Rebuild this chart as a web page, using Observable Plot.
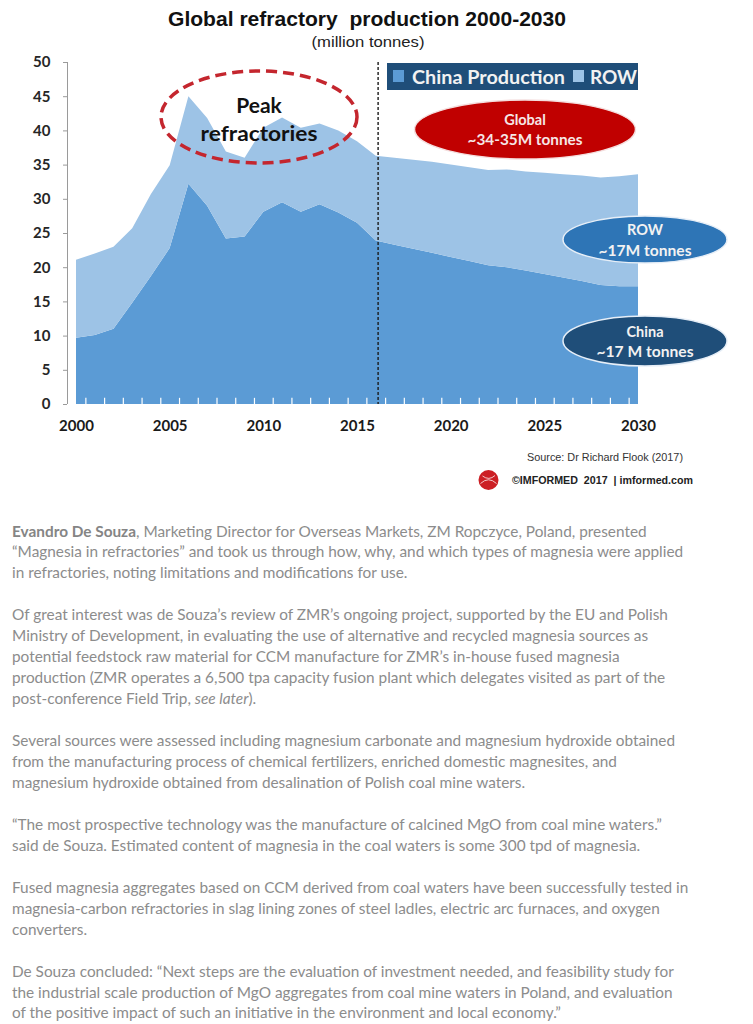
<!DOCTYPE html>
<html>
<head>
<meta charset="utf-8">
<script src="https://cdn.jsdelivr.net/npm/d3@7"></script>
<script src="https://cdn.jsdelivr.net/npm/@observablehq/plot@0.6"></script>
<style>
  html, body { margin: 0; padding: 0; background: #fff; }
  #page { position: relative; width: 753px; height: 1024px; overflow: hidden; }
  #chart { position: absolute; left: 0; top: 50px; }
  #overlay { position: absolute; left: 0; top: 0; pointer-events: none; }
  #text { position: absolute; left: 12px; top: 520.6px; font-family: Lato, sans-serif; color: #8c8c8c; }
  #text .line { white-space: pre; height: 20.8px; line-height: 20.8px; }
  #text .gap { height: 21.5px; }
  #text b { font-weight: bold; color: #858585; }
</style>
</head>
<body>
<div id="page">
  <div id="chart"></div>
  <svg id="overlay" width="753" height="500" xmlns="http://www.w3.org/2000/svg">
    <!-- title -->
    <text x="367" y="19" text-anchor="middle" dominant-baseline="central" font-family="Liberation Sans, Arial, sans-serif" font-weight="bold" font-size="19.5" fill="#111" textLength="398" lengthAdjust="spacingAndGlyphs" style="white-space:pre" xml:space="preserve">Global refractory  production 2000-2030</text>
    <text x="368" y="42" text-anchor="middle" dominant-baseline="central" font-family="Liberation Sans, Arial, sans-serif" font-size="14" fill="#222" textLength="113" lengthAdjust="spacingAndGlyphs">(million tonnes)</text>

    <!-- legend -->
    <rect x="387" y="63" width="251" height="27" fill="#1f4e79"></rect>
    <rect x="393" y="70" width="11" height="12" fill="#5b9bd5"></rect>
    <text x="412" y="76.5" dominant-baseline="central" font-family="Lato, sans-serif" font-weight="bold" font-size="18.5" fill="#f2f2f2" textLength="153" lengthAdjust="spacingAndGlyphs">China Production</text>
    <rect x="573" y="70" width="11" height="12" fill="#9dc3e6"></rect>
    <text x="590" y="76.5" dominant-baseline="central" font-family="Lato, sans-serif" font-weight="bold" font-size="18.5" fill="#f2f2f2" textLength="47" lengthAdjust="spacingAndGlyphs">ROW</text>

    <!-- peak annotation -->
    <ellipse cx="259" cy="117" rx="98" ry="46" fill="none" stroke="#c4262e" stroke-width="3.5" stroke-dasharray="11,6"></ellipse>
    <text x="259" y="104" text-anchor="middle" dominant-baseline="central" font-family="Lato, sans-serif" font-weight="bold" font-size="21" fill="#111">Peak</text>
    <text x="259" y="132" text-anchor="middle" dominant-baseline="central" font-family="Lato, sans-serif" font-weight="bold" font-size="21" fill="#111" textLength="117" lengthAdjust="spacingAndGlyphs">refractories</text>

    <!-- global ellipse -->
    <ellipse cx="525" cy="129.5" rx="110.5" ry="29.5" fill="#c00000" stroke="#f4dede" stroke-width="1.5"></ellipse>
    <text x="525" y="119" text-anchor="middle" dominant-baseline="central" font-family="Lato, sans-serif" font-weight="bold" font-size="14.5" fill="#f6e6e6">Global</text>
    <text x="525" y="139.5" text-anchor="middle" dominant-baseline="central" font-family="Lato, sans-serif" font-weight="bold" font-size="14.5" fill="#f6e6e6" textLength="115" lengthAdjust="spacingAndGlyphs">~34-35M tonnes</text>

    <!-- ROW ellipse -->
    <ellipse cx="645" cy="239.5" rx="82" ry="23.5" fill="#2e75b6" stroke="#e6eef7" stroke-width="1.5"></ellipse>
    <text x="645" y="229.5" text-anchor="middle" dominant-baseline="central" font-family="Lato, sans-serif" font-weight="bold" font-size="14.5" fill="#f2f2f2">ROW</text>
    <text x="645" y="250" text-anchor="middle" dominant-baseline="central" font-family="Lato, sans-serif" font-weight="bold" font-size="14.5" fill="#f2f2f2" textLength="93" lengthAdjust="spacingAndGlyphs">~17M tonnes</text>

    <!-- China ellipse -->
    <ellipse cx="645" cy="341" rx="82" ry="25" fill="#1f4e79" stroke="#e6eef7" stroke-width="1.5"></ellipse>
    <text x="645" y="331" text-anchor="middle" dominant-baseline="central" font-family="Lato, sans-serif" font-weight="bold" font-size="14.5" fill="#f2f2f2">China</text>
    <text x="645" y="351.5" text-anchor="middle" dominant-baseline="central" font-family="Lato, sans-serif" font-weight="bold" font-size="14.5" fill="#f2f2f2" textLength="97" lengthAdjust="spacingAndGlyphs">~17 M tonnes</text>

    <!-- source and logo -->
    <text x="527" y="457" dominant-baseline="central" font-family="Liberation Sans, Arial, sans-serif" font-size="11" fill="#333" textLength="156" lengthAdjust="spacingAndGlyphs">Source: Dr Richard Flook (2017)</text>
    <circle cx="488.5" cy="480" r="10" fill="#cc1f24"></circle>
    <path d="M480.5 483.5 Q488.5 476 496.5 483.5 M482.5 476 Q489 481 495 475.5" fill="none" stroke="#ffffff" stroke-opacity="0.75" stroke-width="1"></path>
    <text x="512" y="480" dominant-baseline="central" font-family="Liberation Sans, Arial, sans-serif" font-weight="bold" font-size="11" fill="#222" textLength="181" lengthAdjust="spacingAndGlyphs" style="white-space:pre" xml:space="preserve">©IMFORMED  2017  | imformed.com</text>
  </svg>
  <div id="text"></div>
</div>
<script>
// ---- data ----
const years = [2000, 2001, 2002, 2003, 2004, 2005, 2006, 2007, 2008, 2009, 2010,
  2011, 2012, 2013, 2014, 2015, 2016, 2017, 2018, 2019, 2020,
  2021, 2022, 2023, 2024, 2025, 2026, 2027, 2028, 2029, 2030];
const seriesNames = ["China Production", "ROW"];
const chinaProduction = [9.7, 10.1, 11.0, 14.8, 18.7, 22.8, 32.2, 29.0, 24.2, 24.5, 28.1,
  29.5, 28.1, 29.2, 28.0, 26.5, 23.9, 23.3, 22.7, 22.1, 21.5,
  20.9, 20.3, 20.0, 19.5, 19.0, 18.5, 18.0, 17.4, 17.2, 17.2];
const rowProduction = [11.4, 11.9, 12.0, 10.9, 12.0, 12.1, 12.8, 12.8, 12.7, 11.5, 12.3,
  12.4, 12.3, 11.8, 12.0, 11.9, 12.4, 12.7, 13.0, 13.3, 13.5,
  13.7, 13.9, 14.3, 14.5, 14.8, 15.1, 15.4, 15.7, 16.1, 16.4];
const seriesColors = ["#5b9bd5", "#9dc3e6"];
const yTicks = [0, 5, 10, 15, 20, 25, 30, 35, 40, 45, 50];
const xTicks = [2000, 2005, 2010, 2015, 2020, 2025, 2030];
const forecastStart = [2016.1];

const table = years.flatMap((yr, i) => [
  {year: yr, series: seriesNames[0], value: chinaProduction[i]},
  {year: yr, series: seriesNames[1], value: rowProduction[i]}
]);
const midYears = years.slice(0, -1).map(y => y + 0.5);

const chart = Plot.plot({
  width: 753,
  height: 390,
  marginLeft: 76,
  marginRight: 115,
  marginTop: 12,
  marginBottom: 36,
  style: {fontFamily: "Lato, sans-serif", fontSize: "15px", fontWeight: "bold", color: "#262626", background: "transparent", overflow: "visible"},
  x: {domain: [2000, 2030]},
  y: {domain: [0, 50]},
  color: {domain: seriesNames, range: seriesColors},
  marks: [
    Plot.areaY(table, {x: "year", y: "value", z: "series", fill: "series", order: seriesNames, curve: "linear"}),
    Plot.ruleX(midYears, {x: d => d, y1: 0, y2: 0.9, stroke: "white", strokeWidth: 1.2}),
    Plot.ruleX(forecastStart, {stroke: "#1a1a1a", strokeWidth: 1.4, strokeDasharray: "3,2"}),
    Plot.ruleX([2000], {y1: 0, y2: 50, dx: -9, stroke: "#9a9a9a", strokeWidth: 1}),
    Plot.axisY({ticks: yTicks, tickSize: 4, tickPadding: 13, dx: -9, stroke: "#9a9a9a", fill: "#262626", fontSize: 15, fontWeight: "bold", label: null}),
    Plot.axisX({ticks: xTicks, tickSize: 0, tickPadding: 16, tickFormat: d3.format("d"), fill: "#1a1a1a", fontSize: 15, fontWeight: "bold", label: null})
  ]
});
document.getElementById("chart").appendChild(chart);

// ---- article text ----
const paragraphs = [
  [
    "<b>Evandro De Souza</b>, Marketing Director for Overseas Markets, ZM Ropczyce, Poland, presented",
    "“Magnesia in refractories” and took us through how, why, and which types of magnesia were applied",
    "in refractories, noting limitations and modifications for use."
  ],
  [
    "Of great interest was de Souza’s review of ZMR’s ongoing project, supported by the EU and Polish",
    "Ministry of Development, in evaluating the use of alternative and recycled magnesia sources as",
    "potential feedstock raw material for CCM manufacture for ZMR’s in-house fused magnesia",
    "production (ZMR operates a 6,500 tpa capacity fusion plant which delegates visited as part of the",
    "post-conference Field Trip, <i>see later</i>)."
  ],
  [
    "Several sources were assessed including magnesium carbonate and magnesium hydroxide obtained",
    "from the manufacturing process of chemical fertilizers, enriched domestic magnesites, and",
    "magnesium hydroxide obtained from desalination of Polish coal mine waters."
  ],
  [
    "“The most prospective technology was the manufacture of calcined MgO from coal mine waters.”",
    "said de Souza. Estimated content of magnesia in the coal waters is some 300 tpd of magnesia."
  ],
  [
    "Fused magnesia aggregates based on CCM derived from coal waters have been successfully tested in",
    "magnesia-carbon refractories in slag lining zones of steel ladles, electric arc furnaces, and oxygen",
    "converters."
  ],
  [
    "De Souza concluded: “Next steps are the evaluation of investment needed, and feasibility study for",
    "the industrial scale production of MgO aggregates from coal mine waters in Poland, and evaluation",
    "of the positive impact of such an initiative in the environment and local economy.”"
  ]
];

// fit font size so the first line spans the same width as in the reference
const ctx = document.createElement("canvas").getContext("2d");
ctx.font = "bold 15px Lato";
let w = ctx.measureText("Evandro De Souza").width;
ctx.font = "15px Lato";
w += ctx.measureText(", Marketing Director for Overseas Markets, ZM Ropczyce, Poland, presented").width;
const fs = Math.max(12, Math.min(18, 15 * 636 / w));

const textDiv = document.getElementById("text");
textDiv.style.fontSize = fs + "px";
paragraphs.forEach((p, i) => {
  if (i > 0) { const g = document.createElement("div"); g.className = "gap"; textDiv.appendChild(g); }
  p.forEach(line => {
    const d = document.createElement("div");
    d.className = "line";
    d.innerHTML = line;
    textDiv.appendChild(d);
  });
});
</script>
</body>
</html>
